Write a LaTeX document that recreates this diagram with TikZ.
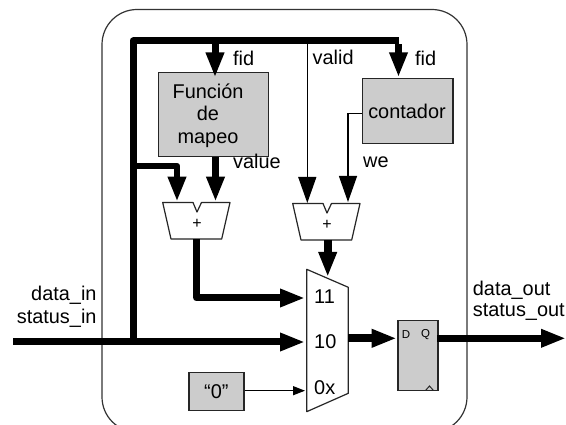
\documentclass[tikz,border=0pt]{standalone}
\usepackage{fontspec}
\setmainfont{Liberation Sans}
\usetikzlibrary{arrows.meta}
\definecolor{boxgrey}{HTML}{CCCCCC}
\tikzset{
  lbl/.style={inner sep=0pt,font=\fontsize{19.9}{23}\selectfont},
  lbll/.style={lbl,anchor=west},
  lblr/.style={lbl,anchor=east},
  lblb/.style={lbl,anchor=base},
  greybox/.style={draw=black!85,line width=1.2pt,fill=boxgrey,inner sep=0pt,anchor=north west},
  shapeline/.style={draw=black!85,line width=1.2pt,fill=white,line join=round},
  bus/.style={line width=7pt,line join=round},
  busarrow/.style={bus,-{Triangle[length=25pt,width=17pt]}},
  wirearrow/.style={line width=1.3pt,-{Triangle[length=26pt,width=18pt]}},
  smallarrow/.style={line width=1.3pt,-{Triangle[length=12pt,width=9pt]}},
  small/.style={inner sep=0pt,font=\fontsize{11.5}{13}\selectfont},
  plus/.style={inner sep=0pt,font=\fontsize{16}{18}\selectfont},
}
\begin{document}
\begin{tikzpicture}[x=1pt,y=-1pt]
\clip (0,0) rectangle (566,425);
\fill[white] (0,0) rectangle (566,425);
% enclosure
\draw[draw=black!80,line width=1.2pt,rounded corners=35pt] (102,9.5) rectangle (467,432);
% blocks
\node[greybox,minimum width=110pt,minimum height=83.5pt] (func) at (157.5,72.3) {};
\node[lblb] (functext) at (208,98.5) {Función};
\node[lblb] (detext) at (208,120.7) {de};
\node[lblb] (maptext) at (208,143.3) {mapeo};
\node[greybox,minimum width=90.6pt,minimum height=65pt] (cont) at (361.7,78) {};
\node[lbl] (conttext) at (407,111) {contador};
\node[greybox,minimum width=55pt,minimum height=38pt] (zero) at (188.3,372.3) {\fontsize{19.9}{23}\selectfont “0”};
\node[greybox,minimum width=40pt,minimum height=70.6pt] (ff) at (397.3,319.7) {};
\node[small] (d) at (406,335) {D};
\node[small] (q) at (425.7,335) {Q};
\draw[line width=1pt,draw=black!85] (425.7,390.3) -- (429.5,386) -- (433.3,390.3);
% adders
\draw[shapeline] (162.7,202.5) -- (193,202.5) -- (197,212) -- (201.5,202.5) -- (230,202.5) -- (221.7,239) -- (171,239) -- cycle;
\node[plus] (addA) at (197,224) {+};
\draw[shapeline] (292.7,203.5) -- (323,203.5) -- (327,213) -- (331.5,203.5) -- (360,203.5) -- (351.7,240) -- (301,240) -- cycle;
\node[plus] (addB) at (327,225) {+};
% mux
\draw[shapeline] (306.7,269.3) -- (348.3,287.3) -- (348.3,393.3) -- (306.7,411.7) -- cycle;
\node[lbll] (m11) at (314,296.7) {11};
\node[lbll] (m10) at (314,341.7) {10};
\node[lbll] (m0x) at (314,387.7) {0x};
% ports
\coordinate (inL) at (13.3,342);
\coordinate (junc) at (133,342);
\coordinate (pm10) at (305,342);
\coordinate (pm11) at (305,298);
\coordinate (pm0x) at (305,390.7);
\coordinate (busA) at (215,41);
\coordinate (busV) at (307.3,41);
\coordinate (corner) at (398.5,41);
\coordinate (tipF) at (215,77.5);
\coordinate (tipC) at (398.5,77.3);
\coordinate (branch) at (133,166);
\coordinate (aIn1) at (177,201.7);
\coordinate (aIn2) at (215.5,201.7);
\coordinate (aOut) at (196.7,239);
\coordinate (bIn1) at (307.3,203);
\coordinate (bIn2) at (348,202);
\coordinate (bOut) at (327.7,240);
\coordinate (muxTop) at (327.7,277);
\coordinate (muxOut) at (348.3,338.3);
\coordinate (ffIn) at (396.7,338.3);
\coordinate (ffOut) at (437.3,338.3);
\coordinate (outR) at (566,338.3);
% wires
\draw[wirearrow] (busV) -- (bIn1);
\draw[wirearrow] (cont.west |- 0,113.7) -| (bIn2);
\draw[smallarrow] (zero.east |- pm0x) -- (pm0x);
% buses
\draw[busarrow] (inL) -- (pm10);
\draw[bus,line width=7pt] (junc) -- (133,41) -- (corner);
\draw[busarrow,line width=7pt] (busA) -- (tipF);
\draw[busarrow,line width=7pt] ([yshift=-3.5pt]corner) -- (tipC);
\draw[busarrow,line width=6.5pt] (branch) -| (aIn1);
\draw[busarrow,line width=7pt] (func.south -| aIn2) -- (aIn2);
\draw[busarrow,line width=7pt] (aOut) |- (pm11);
\draw[busarrow,line width=8pt] (bOut) -- (muxTop);
\draw[busarrow,line width=8pt] (muxOut) -- (ffIn);
\draw[busarrow] (ffOut) -- (outR);
% labels
\node[lbll] (fidA) at (233,58.5) {fid};
\node[lbll] (fidB) at (415,58.5) {fid};
\node[lbll] (valid) at (312.5,57) {valid};
\node[lbll] (value) at (233,161) {value};
\node[lbll] (we) at (363,162.5) {we};
\node[lbll] (dout) at (472.7,290) {data\_out};
\node[lbll] (sout) at (472.7,312.5) {status\_out};
\node[lblr] (din) at (96.7,295.7) {data\_in};
\node[lblr] (sin) at (96.7,318.3) {status\_in};
\end{tikzpicture}
\end{document}
